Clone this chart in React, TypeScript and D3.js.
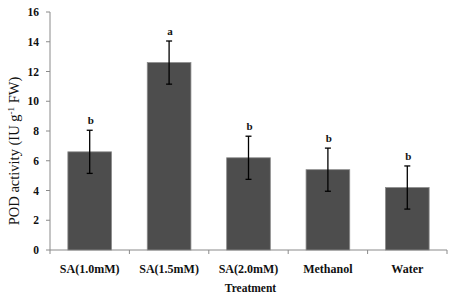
import React from "react";
import * as d3 from "d3";

const categories = ["SA(1.0mM)", "SA(1.5mM)", "SA(2.0mM)", "Methanol", "Water"];
const values = [6.6, 12.6, 6.2, 5.4, 4.2];
const errors = [1.45, 1.45, 1.45, 1.45, 1.45];
const letters = ["b", "a", "b", "b", "b"];
const yTicks = [0, 2, 4, 6, 8, 10, 12, 14, 16];

export default function App() {
  const W = 456, H = 301;
  const left = 50, right = 447, top = 12, bottom = 250;
  const x = d3.scaleBand<string>().domain(categories).range([left, right]).paddingInner(0.45).paddingOuter(0.225);
  const y = d3.scaleLinear().domain([0, 16]).range([bottom, top]);
  const step = (right - left) / categories.length;
  const font = "'Liberation Serif', 'Times New Roman', serif";
  const axisColor = "#8a8a8a";
  return (
    <svg width={W} height={H} style={{ position: "absolute", left: 0, top: 0 }} fontFamily={font}>
      <rect width={W} height={H} fill="#fff" />
      <line x1={left} x2={left} y1={top} y2={bottom} stroke={axisColor} strokeWidth={1} />
      <line x1={left} x2={right} y1={bottom} y2={bottom} stroke={axisColor} strokeWidth={1} />
      {yTicks.map((t) => (
        <g key={t}>
          <line x1={left - 4} x2={left} y1={y(t)} y2={y(t)} stroke={axisColor} />
          <text x={left - 11} y={y(t)} dy="0.35em" textAnchor="end" fontSize={11.5} fontWeight="bold" fill="#111">
            {t}
          </text>
        </g>
      ))}
      {d3.range(categories.length + 1).map((i) => (
        <line key={i} x1={left + i * step} x2={left + i * step} y1={bottom} y2={bottom + 4} stroke={axisColor} />
      ))}
      {categories.map((c, i) => {
        const bx = x(c)!;
        const cx = bx + x.bandwidth() / 2;
        const v = values[i];
        const e = errors[i];
        return (
          <g key={c}>
            <rect x={bx} y={y(v)} width={x.bandwidth()} height={bottom - y(v)} fill="#4d4d4d" stroke="#8c8c8c" strokeWidth={0.8} />
            <line x1={cx} x2={cx} y1={y(v + e)} y2={y(v - e)} stroke="#000" strokeWidth={1.3} />
            <line x1={cx - 3} x2={cx + 3} y1={y(v + e)} y2={y(v + e)} stroke="#000" strokeWidth={1.3} />
            <line x1={cx - 3} x2={cx + 3} y1={y(v - e)} y2={y(v - e)} stroke="#000" strokeWidth={1.3} />
            <text x={cx + 1} y={y(v + e) - 6} textAnchor="middle" fontSize={11} fontWeight="bold" fill="#111">
              {letters[i]}
            </text>
            <text x={cx} y={269} dy="0.35em" textAnchor="middle" fontSize={12} fontWeight="bold" fill="#111">
              {c}
            </text>
          </g>
        );
      })}
      <text x={(left + right) / 2 + 2} y={288} dy="0.35em" textAnchor="middle" fontSize={11.5} fontWeight="bold" fill="#111">
        Treatment
      </text>
      <text transform={`translate(14, 151) rotate(-90)`} textAnchor="middle" dy="0.35em" fontSize={14.5} fill="#111">
        POD activity (IU g<tspan dy="-5.5" fontSize={9}>-1</tspan><tspan dy="5.5"> FW)</tspan>
      </text>
    </svg>
  );
}
